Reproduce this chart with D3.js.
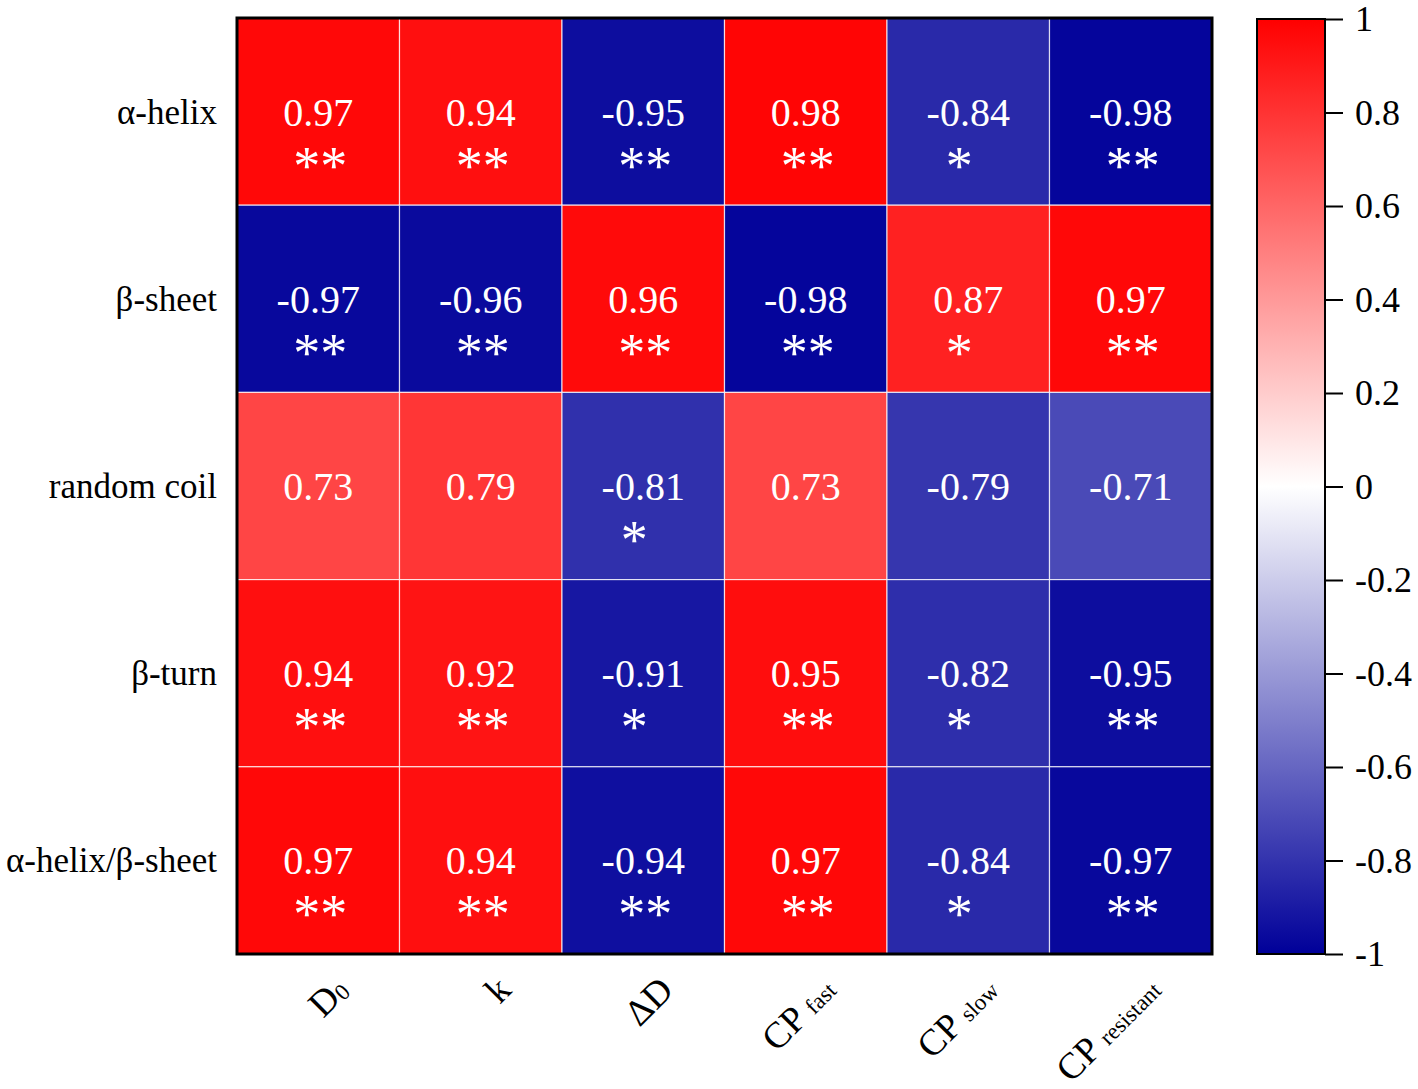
<!DOCTYPE html>
<html>
<head>
<meta charset="utf-8">
<script src="https://cdn.jsdelivr.net/npm/d3@7"></script>
<style>
  body { margin: 0; background: #fff; }
  svg text { font-family: "Liberation Serif", "Times New Roman", serif; }
</style>
</head>
<body>
<div id="heatmap"></div>
<script>
// rows and columns of the correlation matrix
var rows = ['α-helix', 'β-sheet', 'random coil', 'β-turn', 'α-helix/β-sheet'];
var cols = [
	{ main: 'D', sub: '0' },
	{ main: 'k', sub: '' },
	{ main: 'ΔD', sub: '' },
	{ main: 'CP ', sub: 'fast' },
	{ main: 'CP ', sub: 'slow' },
	{ main: 'CP ', sub: 'resistant' }
];

// correlation coefficients, one array per row
var values = [
	[ 0.97,  0.94, -0.95,  0.98, -0.84, -0.98],
	[-0.97, -0.96,  0.96, -0.98,  0.87,  0.97],
	[ 0.73,  0.79, -0.81,  0.73, -0.79, -0.71],
	[ 0.94,  0.92, -0.91,  0.95, -0.82, -0.95],
	[ 0.97,  0.94, -0.94,  0.97, -0.84, -0.97]
];

// significance marks
var signif = [
	['**', '**', '**', '**', '*', '**'],
	['**', '**', '**', '**', '*', '**'],
	['',   '',   '*',  '',   '',  ''],
	['**', '**', '*',  '**', '*', '**'],
	['**', '**', '**', '**', '*', '**']
];

// colour bar ticks
var bar_ticks = [1, 0.8, 0.6, 0.4, 0.2, 0, -0.2, -0.4, -0.6, -0.8, -1];

var width  = 1418;
var height = 1089;
var grid   = { left: 237, right: 1212, top: 18, bottom: 954 };
var bar    = { left: 1257, right: 1325, top: 19, bottom: 954 };

var color = d3.scaleLinear()
			.domain([-1, 0, 1])
			.range(['#000099', '#ffffff', '#ff0000']);

var x_scale = d3.scaleBand()
			.domain(d3.range(cols.length))
			.range([grid.left, grid.right]);
var y_scale = d3.scaleBand()
			.domain(d3.range(rows.length))
			.range([grid.top, grid.bottom]);

var svg = d3.select('#heatmap')
			.append('svg')
			.attr('width', width)
			.attr('height', height);

// flatten to cells
var cells = [];
values.forEach(function(r, i) {
	r.forEach(function(v, j) {
		cells.push({ row: i, col: j, value: v, mark: signif[i][j] });
	});
});

var cell = svg.append('g')
			.selectAll('g')
			.data(cells)
			.enter()
			.append('g');

cell.append('rect')
	.attr('x', function(d) { return x_scale(d.col); })
	.attr('y', function(d) { return y_scale(d.row); })
	.attr('width', x_scale.bandwidth())
	.attr('height', y_scale.bandwidth())
	.attr('fill', function(d) { return color(d.value); })
	.attr('stroke', 'rgba(255,255,255,0.75)')
	.attr('stroke-width', 1.2);

cell.append('text')
	.attr('x', function(d) { return x_scale(d.col) + x_scale.bandwidth() / 2; })
	.attr('y', function(d) { return y_scale(d.row) + y_scale.bandwidth() / 2 + 14; })
	.attr('text-anchor', 'middle')
	.attr('fill', '#fff')
	.style('font-size', '40px')
	.text(function(d) { return d.value.toFixed(2); });

// significance stars (Liberation's asterisk is small, so a bigger size)
cell.filter(function(d) { return d.mark !== ''; })
	.append('text')
	.attr('x', function(d) {
		var cx = x_scale(d.col) + x_scale.bandwidth() / 2;
		return d.mark.length === 1 ? cx - 9 : cx + 2;
	})
	.attr('y', function(d) { return y_scale(d.row) + y_scale.bandwidth() / 2 + 72; })
	.attr('text-anchor', 'middle')
	.attr('fill', '#fff')
	.style('font-size', '54px')
	.text(function(d) { return d.mark; });

// outer frame
svg.append('rect')
   .attr('x', grid.left)
   .attr('y', grid.top)
   .attr('width', grid.right - grid.left)
   .attr('height', grid.bottom - grid.top)
   .attr('fill', 'none')
   .attr('stroke', '#000')
   .attr('stroke-width', 3);

// row labels
svg.append('g')
   .selectAll('text')
   .data(rows)
   .enter()
   .append('text')
   .attr('x', 217)
   .attr('y', function(d, i) { return y_scale(i) + y_scale.bandwidth() / 2 + 12; })
   .attr('text-anchor', 'end')
   .style('font-size', '35px')
   .text(function(d) { return d; });

// column labels, rotated
var col_label = svg.append('g')
   .selectAll('text')
   .data(cols)
   .enter()
   .append('text')
   .attr('text-anchor', 'end')
   .attr('transform', function(d, i) {
		var px = x_scale(i) + x_scale.bandwidth() / 2 + 32;
		return 'translate(' + px + ',992) rotate(-45)';
   })
   .style('font-size', '37px');

col_label.append('tspan')
   .text(function(d) { return d.main; });
col_label.append('tspan')
   .style('font-size', '23px')
   .attr('dy', function(d) { return d.sub === '0' ? 2 : 0; })
   .text(function(d) { return d.sub; });

// colour bar
var defs = svg.append('defs');
var grad = defs.append('linearGradient')
   .attr('id', 'bar-grad')
   .attr('x1', 0).attr('y1', 1)
   .attr('x2', 0).attr('y2', 0);
grad.selectAll('stop')
   .data([-1, 0, 1])
   .enter()
   .append('stop')
   .attr('offset', function(d) { return (d + 1) / 2; })
   .attr('stop-color', function(d) { return color(d); });

svg.append('rect')
   .attr('x', bar.left)
   .attr('y', bar.top)
   .attr('width', bar.right - bar.left)
   .attr('height', bar.bottom - bar.top)
   .attr('fill', 'url(#bar-grad)')
   .attr('stroke', '#000')
   .attr('stroke-width', 2);

var bar_scale = d3.scaleLinear()
   .domain([-1, 1])
   .range([bar.bottom, bar.top]);

var bar_axis = d3.axisRight(bar_scale)
   .tickValues(bar_ticks)
   .tickSize(18)
   .tickPadding(12)
   .tickFormat(function(d) { return String(d); });

var bar_g = svg.append('g')
   .attr('transform', 'translate(' + bar.right + ',0)')
   .call(bar_axis);

bar_g.select('.domain').remove();
bar_g.selectAll('.tick line')
   .attr('stroke', '#000')
   .attr('stroke-width', 2);
bar_g.selectAll('.tick text')
   .attr('fill', '#000')
   .style('font-family', '"Liberation Serif", "Times New Roman", serif')
   .style('font-size', '36px');
</script>
</body>
</html>
